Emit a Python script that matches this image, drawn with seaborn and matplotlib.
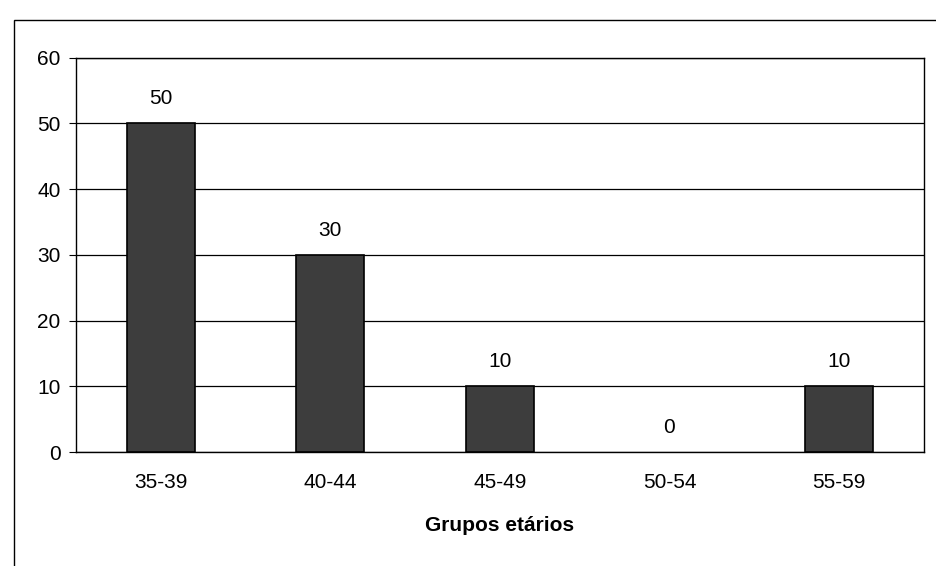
import matplotlib
matplotlib.use("Agg")
import matplotlib.pyplot as plt
import seaborn as sns
import pandas as pd
from matplotlib.patches import Rectangle

# Data
grupos = ["35-39", "40-44", "45-49", "50-54", "55-59"]
valores = [50, 30, 10, 0, 10]
y_ticks = [0, 10, 20, 30, 40, 50, 60]

df = pd.DataFrame({"grupo": grupos, "valor": valores})

sns.set_style("white")
plt.rcParams["font.family"] = ["Liberation Sans", "DejaVu Sans"]
plt.rcParams["text.color"] = "black"
plt.rcParams["xtick.color"] = "black"
plt.rcParams["ytick.color"] = "black"
plt.rcParams["axes.labelcolor"] = "black"

fig = plt.figure(figsize=(9.37, 5.66), dpi=100)
ax = fig.add_axes([0.081, 0.201, 0.905, 0.697])

# outer frame of the chart (runs off the page right and bottom)
fig.patches.append(Rectangle((0.015, -0.01), 1.05, 0.975, transform=fig.transFigure,
                             fill=False, edgecolor="black", linewidth=1.0))

sns.barplot(data=df, x="grupo", y="valor", ax=ax, color="#3d3d3d",
            edgecolor="black", linewidth=1.2, width=0.4, saturation=1)

# no outline for an empty bar
for p, v in zip(ax.patches, valores):
    if v == 0:
        p.set_edgecolor("none")

for i, v in enumerate(valores):
    ax.annotate(str(v), (i, v), xytext=(0, 11), textcoords="offset points",
                ha="center", va="bottom", fontsize=15)

ax.set_ylim(0, 60)
ax.set_yticks(y_ticks)
ax.set_xlim(-0.5, len(grupos) - 0.5)
ax.yaxis.grid(True, color="black", linewidth=0.9)
ax.set_axisbelow(True)

# ticks on the x axis sit between categories
ax.set_xticks(range(len(grupos)))
ax.set_xticklabels(grupos)
ax.tick_params(axis="x", length=0, pad=15, labelsize=15)
ax.set_xticks([i + 0.5 for i in range(len(grupos) - 1)], minor=True)
ax.tick_params(axis="x", which="minor", length=5, direction="out", color="black")
ax.tick_params(axis="y", length=5, direction="out", color="black", labelsize=15, pad=6, left=True)

for s in ax.spines.values():
    s.set_color("black")
    s.set_linewidth(1.0)

ax.set_ylabel("")
ax.set_xlabel("Grupos etários", fontsize=15, fontweight="bold", labelpad=17)

fig.savefig("out.png", dpi=100)
